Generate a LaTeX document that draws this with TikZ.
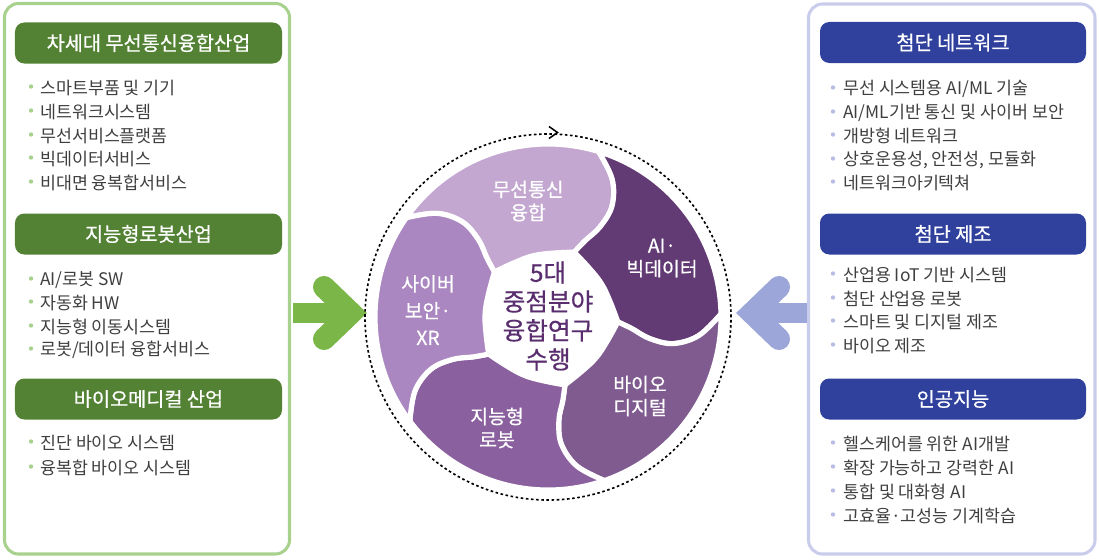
\documentclass[tikz,border=0pt]{standalone}
\usepackage{fontspec}
\setmainfont{Noto Sans CJK KR}
\newfontfamily\medfont[FakeBold=0.6]{Noto Sans CJK KR}
\definecolor{gBorder}{HTML}{A9D18E}
\definecolor{gHead}{HTML}{548235}
\definecolor{gArrow}{HTML}{7AB648}
\definecolor{gDot}{HTML}{A9D18E}
\definecolor{bBorder}{HTML}{C9CDEB}
\definecolor{bHead}{HTML}{2F409D}
\definecolor{bArrow}{HTML}{9DA6D9}
\definecolor{bDot}{HTML}{B8BEE3}
\definecolor{itemgray}{HTML}{3F3F3F}
\definecolor{pA}{HTML}{C3A7D1}
\definecolor{pB}{HTML}{633B74}
\definecolor{pC}{HTML}{7F5B90}
\definecolor{pD}{HTML}{8A609E}
\definecolor{pE}{HTML}{AA87C0}
\definecolor{ctext}{HTML}{5A2E6E}
\newcommand{\itemfont}{\fontsize{14.8pt}{17pt}\selectfont}
\newcommand{\headfont}{\medfont\fontsize{16.8pt}{19pt}\selectfont}
\newcommand{\petalfont}{\medfont\fontsize{16.5pt}{19.8pt}\selectfont}
\newcommand{\centerfont}{\medfont\fontsize{21pt}{24.7pt}\selectfont}
\newcommand{\petalpath}{(90:173) arc[start angle=90, end angle=18, radius=173]
  -- plot[smooth, tension=0.6] coordinates {(18:173) (10:152) (5:128) (5:104) (9:85) (13:70)}
  -- plot[smooth, tension=0.7] coordinates {(13:70) (31:64) (49:63) (67:64) (85:70)}
  -- plot[smooth, tension=0.6] coordinates {(85:70) (81:85) (77:104) (77:128) (82:152) (90:173)} -- cycle}
\begin{document}
\begin{tikzpicture}[x=0.03cm, y=-0.03cm,
  panelG/.style={draw=gBorder, line width=2.6pt, rounded corners=12pt},
  panelB/.style={draw=bBorder, line width=2.6pt, rounded corners=12pt},
  hdr/.style={rounded corners=8pt, minimum height=1.23cm, inner sep=0pt, text=white, font=\headfont},
  hdrG/.style={hdr, fill=gHead, minimum width=8.01cm},
  hdrB/.style={hdr, fill=bHead, minimum width=7.98cm},
  itemtext/.style={anchor=west, inner sep=0pt, text=itemgray, font=\itemfont},
  petal/.style={fill=#1, draw=white, line width=4.4pt, line join=round},
  plabel/.style={align=center, text=white, font=\petalfont, inner sep=0pt},
  ring/.style={draw=black, line width=1.4pt, dash pattern=on 2.2pt off 2.2pt},
  armG/.style={draw=gArrow, line width=18.8pt, line cap=round, line join=miter},
  armB/.style={draw=bArrow, line width=18.8pt, line cap=round, line join=miter}]
\useasboundingbox (0,0) rectangle (1099,559);

% panels
\draw[panelG] (4.5,3.5) rectangle (289.5,554);
\draw[panelB] (808.5,4) rectangle (1095,554);

% left headers
\node[hdrG] (LH1) at (148.5,43) {차세대 무선통신융합산업};
\node[hdrG] (LH2) at (148.5,234) {지능형로봇산업};
\node[hdrG] (LH3) at (148.5,399) {바이오메디컬 산업};
% right headers
\node[hdrB] (RH1) at (953,42.5) {첨단 네트워크};
\node[hdrB] (RH2) at (953,234) {첨단 제조};
\node[hdrB] (RH3) at (953,399) {인공지능};

% left items
\foreach \y/\t [count=\i] in {88/{스마트부품 및 기기}, 112/{네트워크시스템}, 136/{무선서비스플랫폼}, 159/{빅데이터서비스}, 183/{비대면 융복합서비스},
  280/{AI/로봇 SW}, 303/{자동화 HW}, 327/{지능형 이동시스템}, 350/{로봇/데이터 융합서비스},
  443/{진단 바이오 시스템}, 468/{융복합 바이오 시스템}}{
  \fill[gDot] (31,\y-1.5) circle[radius=2.2];
  \node[itemtext] (L\i) at (40,\y) {\t};
}
% right items
\foreach \y/\t [count=\i] in {89/{무선 시스템용 AI/ML 기술}, 113/{AI/ML기반 통신 및 사이버 보안}, 136/{개방형 네트워크}, 160/{상호운용성, 안전성, 모듈화}, 183/{네트워크아키텍쳐},
  275/{산업용 IoT 기반 시스템}, 299/{첨단 산업용 로봇}, 322/{스마트 및 디지털 제조}, 346/{바이오 제조},
  444/{헬스케어를 위한 AI개발}, 468/{확장 가능하고 강력한 AI}, 492/{통합 및 대화형 AI}, 516/{고효율·고성능 기계학습}}{
  \fill[bDot] (833,\y-1.5) circle[radius=2.2];
  \node[itemtext] (R\i) at (843,\y) {\t};
}

% big arrows
\fill[gArrow] (293,303) rectangle (342,323);
\draw[armG] (324,287) -- (351,313) -- (324,339);
\fill[bArrow] (758,303) rectangle (807,323);
\draw[armB] (779,287) -- (752,313) -- (779,339);

% pinwheel
\coordinate (C) at (548,317);
\begin{scope}[shift={(C)}, x=0.03cm, y=0.03cm]
  \begin{scope}[rotate=55]\path[petal=pA] \petalpath;\end{scope}
  \begin{scope}[rotate=-17]\path[petal=pB] \petalpath;\end{scope}
  \begin{scope}[rotate=-89]\path[petal=pC] \petalpath;\end{scope}
  \begin{scope}[rotate=-161]\path[petal=pD] \petalpath;\end{scope}
  \begin{scope}[rotate=-233]\path[petal=pE] \petalpath;\end{scope}
  \draw[ring] (0,0) circle[radius=183];
\end{scope}
\draw[line width=1.3pt] (549,126.5) -- (557.5,132.5) -- (549,138.5);

% labels
\node[plabel] (tA) at (528,201) {무선통신\\융합};
\node[plabel] (tB) at (662,258) {AI·\\빅데이터};
\node[plabel, font=\medfont\fontsize{16.5pt}{23pt}\selectfont] (tE) at (428,310) {사이버\\보안·\\XR};
\node[plabel] (tC) at (640,396) {바이오\\디지털};
\node[plabel] (tD) at (497,428) {지능형\\로봇};
\node[align=center, text=ctext, font=\centerfont, inner sep=0pt] (ctr) at (548,316) {5대\\중점분야\\융합연구\\수행};
\end{tikzpicture}
\end{document}
